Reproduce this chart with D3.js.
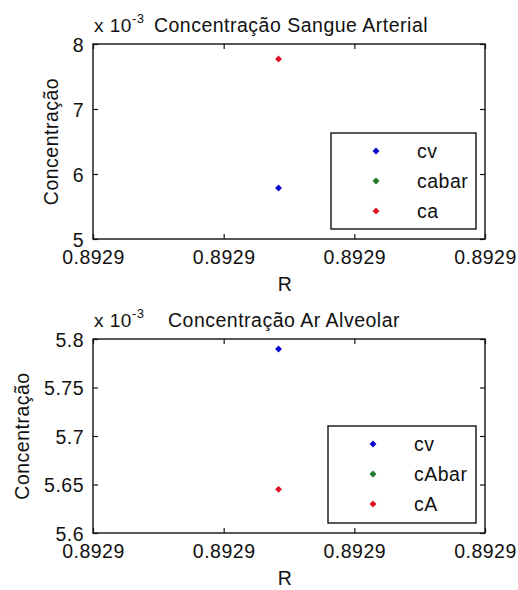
<!DOCTYPE html>
<html>
<head>
<meta charset="utf-8">
<script src="https://cdn.jsdelivr.net/npm/d3@7"></script>
<style>
  html, body { margin: 0; padding: 0; background: #fff; }
  svg { display: block; }
  text { font-family: "Liberation Sans", Arial, sans-serif; fill: #111; letter-spacing: 0.5px; }
</style>
</head>
<body>
<script>
// R value shared by both panels
const R = [0.8929142];

// X tick values (all print as 0.8929 at four decimals)
const xTicks = [0.89290, 0.89291, 0.89292, 0.89293];

// Panel 1: arterial blood concentrations
const seriesNames1 = ["cv", "cabar", "ca"];
const cv1 = [5.785e-3];
const cabar1 = [NaN];
const ca1 = [7.77e-3];
const yTicks1 = [5e-3, 6e-3, 7e-3, 8e-3];

// Panel 2: alveolar air concentrations
const seriesNames2 = ["cv", "cAbar", "cA"];
const cv2 = [5.7897e-3];
const cAbar2 = [NaN];
const cA2 = [5.645e-3];
const yTicks2 = [5.6e-3, 5.65e-3, 5.7e-3, 5.75e-3, 5.8e-3];

const colors = ["#0a0ad0", "#1f7a2a", "#e0102a"];

const W = 518, H = 590;
const svg = d3.select("body").append("svg").attr("width", W).attr("height", H);
svg.append("rect").attr("width", W).attr("height", H).attr("fill", "#fff");

const marker = d3.symbol().type(d3.symbolSquare).size(24);
const fs = 19.5;

function panel(opts) {
  const { top, bottom, left, right, yTicks, names, values, title, legendLeft, legendTop, legendBottom, ylabelX } = opts;
  const g = svg.append("g");
  const x = d3.scaleLinear().domain([xTicks[0], xTicks[xTicks.length - 1]]).range([left, right]);
  const y = d3.scaleLinear().domain([yTicks[0], yTicks[yTicks.length - 1]]).range([bottom, top]);

  // ticks pointing inward on all four sides
  const tl = 5;
  const axB = d3.axisBottom(x).tickValues(xTicks).tickSizeInner(-tl).tickSizeOuter(0).tickPadding(11).tickFormat(d3.format(".4f"));
  const axT = d3.axisTop(x).tickValues(xTicks).tickSizeInner(-tl).tickSizeOuter(0).tickFormat("");
  const axL = d3.axisLeft(y).tickValues(yTicks).tickSizeInner(-tl).tickSizeOuter(0).tickPadding(9).tickFormat(d => d3.format("~g")(+(d * 1000).toFixed(4)));
  const axR = d3.axisRight(y).tickValues(yTicks).tickSizeInner(-tl).tickSizeOuter(0).tickFormat("");

  const style = sel => {
    sel.select(".domain").remove();
    sel.selectAll("line").attr("stroke", "#111").attr("stroke-width", 1.2);
    sel.selectAll("text").attr("font-size", fs).attr("fill", "#111")
      .attr("font-family", "'Liberation Sans', Arial, sans-serif").style("letter-spacing", "0.5px");
  };
  g.append("g").attr("transform", `translate(0,${bottom})`).call(axB).call(style)
    .selectAll("text").attr("dy", "0.71em");
  g.append("g").attr("transform", `translate(0,${top})`).call(axT).call(style);
  g.append("g").attr("transform", `translate(${left},0)`).call(axL).call(style)
    .selectAll("text").attr("dy", "0.36em");
  g.append("g").attr("transform", `translate(${right},0)`).call(axR).call(style);

  // axes box
  g.append("rect").attr("x", left).attr("y", top).attr("width", right - left).attr("height", bottom - top)
    .attr("fill", "none").attr("stroke", "#111").attr("stroke-width", 1.4);

  // data points
  values.forEach((vals, i) => {
    R.forEach((r, j) => {
      const v = vals[j];
      if (!isFinite(v)) return;
      g.append("path").attr("d", marker)
        .attr("transform", `translate(${x(r)},${y(v)}) rotate(45)`)
        .attr("fill", colors[i]);
    });
  });

  // exponent and title
  const ex = g.append("text").attr("x", left + 1).attr("y", top - 12).attr("font-size", 19);
  ex.append("tspan").text("x 10");
  ex.append("tspan").attr("dy", -9).attr("font-size", 13).text("-3");
  g.append("text").attr("x", opts.titleX).attr("y", top - 12).attr("text-anchor", "middle")
    .attr("font-size", fs).text(title);

  // axis labels
  g.append("text").attr("x", (left + right) / 2 - 4).attr("y", bottom + 52).attr("text-anchor", "middle")
    .attr("font-size", fs).text("R");
  g.append("text").attr("transform", `translate(${ylabelX},${(top + bottom) / 2}) rotate(-90)`)
    .attr("text-anchor", "middle").attr("font-size", fs).text("Concentração");

  // legend
  g.append("rect").attr("x", legendLeft).attr("y", legendTop).attr("width", 476 - legendLeft).attr("height", legendBottom - legendTop)
    .attr("fill", "#fff").attr("stroke", "#111").attr("stroke-width", 1.4);
  names.forEach((n, i) => {
    const cy = legendTop + 18 + i * 30;
    g.append("path").attr("d", marker).attr("transform", `translate(${legendLeft + 45},${cy}) rotate(45)`).attr("fill", colors[i]);
    g.append("text").attr("x", legendLeft + 86).attr("y", cy).attr("dy", "0.36em").attr("font-size", fs)
      .text(n);
  });
}

panel({
  top: 44, bottom: 239, left: 93, right: 485,
  yTicks: yTicks1, names: seriesNames1, values: [cv1, cabar1, ca1],
  title: "Concentração Sangue Arterial", titleX: 291,
  legendLeft: 331, legendTop: 133, legendBottom: 229, ylabelX: 58
});

panel({
  top: 339, bottom: 533, left: 93, right: 485,
  yTicks: yTicks2, names: seriesNames2, values: [cv2, cAbar2, cA2],
  title: "Concentração Ar Alveolar", titleX: 284,
  legendLeft: 328, legendTop: 426, legendBottom: 523, ylabelX: 29
});
</script>
</body>
</html>
